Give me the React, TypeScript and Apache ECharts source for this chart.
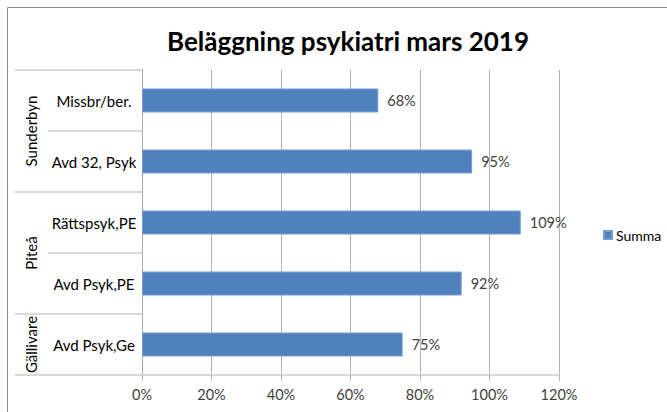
import React, { useEffect, useRef } from "react";
import * as echarts from "echarts";

const categories = ["Missbr/ber.", "Avd 32, Psyk", "Rättspsyk,PE", "Avd Psyk,PE", "Avd Psyk,Ge"];
const values = [0.68, 0.95, 1.09, 0.92, 0.75];
const groups = ["Sunderbyn", "Piteå", "Gällivare"];
const groupSizes = [2, 2, 1];
const seriesName = "Summa";
const titleText = "Beläggning psykiatri mars 2019";

const FONT = "Lato, 'Open Sans', sans-serif";

export default function App() {
  const ref = useRef<HTMLDivElement>(null);
  useEffect(() => {
    if (!ref.current) return;
    const chart = echarts.init(ref.current, null, { renderer: "svg" });
    const gridLeft = 142, gridTop = 70, gridBottomY = 375, gridRightX = 559;
    const band = (gridBottomY - gridTop) / categories.length;
    const graphics: any[] = [];
    graphics.push({
      type: "rect",
      shape: { x: 7.5, y: 7.5, width: 700, height: 500 },
      style: { fill: "none", stroke: "#8c8c8c", lineWidth: 1 },
      silent: true,
    });
    const lineStyle = { stroke: "#d9d9d9", lineWidth: 2 };
    graphics.push({ type: "line", shape: { x1: 15, y1: gridTop, x2: gridLeft, y2: gridTop }, style: lineStyle });
    graphics.push({ type: "line", shape: { x1: 15, y1: gridBottomY, x2: gridLeft, y2: gridBottomY }, style: lineStyle });
    let idx = 0;
    groups.forEach((g, gi) => {
      const start = idx;
      const end = idx + groupSizes[gi];
      for (let k = start + 1; k < end; k++) {
        const y = gridTop + k * band;
        graphics.push({ type: "line", shape: { x1: 48, y1: y, x2: gridLeft, y2: y }, style: lineStyle });
      }
      if (end < categories.length) {
        const y = gridTop + end * band;
        graphics.push({ type: "line", shape: { x1: 15, y1: y, x2: gridLeft, y2: y }, style: lineStyle });
      }
      const cy = gridTop + ((start + end) / 2) * band;
      graphics.push({
        type: "text",
        x: 31,
        y: cy,
        rotation: Math.PI / 2,
        style: {
          text: g,
          font: `15px ${FONT}`,
          fill: "#000",
          align: "center",
          verticalAlign: "middle",
        },
      });
      idx = end;
    });

    chart.setOption({
      animation: false,
      title: {
        text: titleText,
        left: 343,
        textAlign: "center",
        top: 23,
        textStyle: { fontFamily: FONT, fontSize: 26, fontWeight: "bold", color: "#000" },
      },
      legend: {
        data: [seriesName],
        left: 603,
        top: 228,
        padding: 0,
        itemWidth: 8,
        itemHeight: 8,
        itemGap: 4,
        icon: "rect",
        textStyle: { fontFamily: FONT, fontSize: 14, color: "#000", padding: [0, 0, 0, -1] },
      },
      grid: { left: gridLeft, top: gridTop, right: 667 - gridRightX, bottom: 412 - gridBottomY, containLabel: false },
      xAxis: {
        type: "value",
        min: 0,
        max: 1.2,
        interval: 0.2,
        axisLine: { show: true, lineStyle: { color: "#d9d9d9", width: 2 } },
        axisTick: { show: true, length: 6, lineStyle: { color: "#b3b3b3" } },
        splitLine: { show: true, lineStyle: { color: "#b3b3b3", width: 1 } },
        axisLabel: {
          formatter: (v: number) => Math.round(v * 100) + "%",
          fontFamily: FONT,
          fontSize: 14.5,
          color: "#404040",
          margin: 12,
        },
      },
      yAxis: {
        type: "category",
        data: categories,
        inverse: true,
        axisLine: { show: true, onZero: false, lineStyle: { color: "#a6a6a6", width: 1 } },
        axisTick: { show: false },
        axisLabel: {
          align: "center",
          margin: 48,
          fontFamily: FONT,
          fontSize: 15,
          color: "#000",
        },
      },
      graphic: graphics,
      series: [
        {
          name: seriesName,
          type: "bar",
          data: values,
          barWidth: 24,
          itemStyle: { color: "#4f81bd", borderColor: "#7a9fd0", borderWidth: 1 },
          label: {
            show: true,
            position: "right",
            distance: 9,
            formatter: (p: any) => Math.round(p.value * 100) + "%",
            fontFamily: FONT,
            fontSize: 14.5,
            color: "#404040",
          },
        },
      ],
    });
    return () => chart.dispose();
  }, []);
  return (
    <div
      ref={ref}
      style={{ position: "fixed", left: 0, top: 0, width: 667, height: 412, background: "#fff" }}
    />
  );
}
